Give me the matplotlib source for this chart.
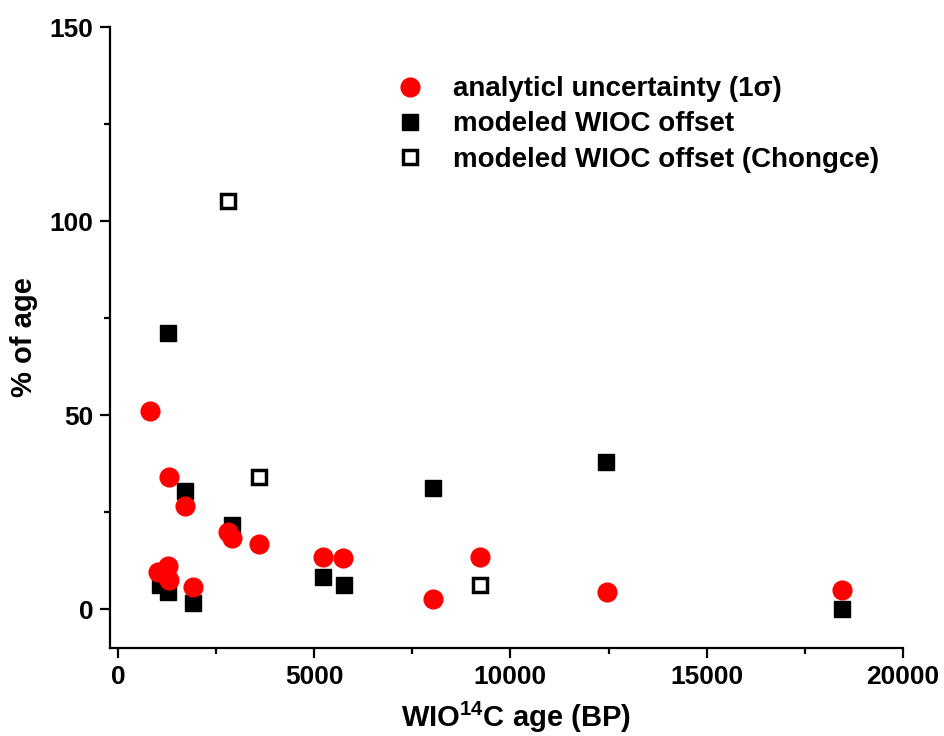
import matplotlib
matplotlib.use("Agg")
import matplotlib.pyplot as plt
from matplotlib.ticker import MultipleLocator

# analytical uncertainty (1 sigma), % of age
age_unc = [814, 1018, 1272, 1298, 1298, 1705, 1910, 2800, 2900, 3590,
           5216, 5725, 8040, 9237, 12468, 18448]
pct_unc = [51.0, 9.5, 11.1, 34.0, 7.5, 26.5, 5.7, 19.8, 18.3, 16.8,
           13.4, 13.1, 2.6, 13.4, 4.4, 4.9]

# modeled WIOC offset, % of age
age_off = [1069, 1272, 1272, 1705, 1910, 2900, 5216, 5750, 8040, 12443, 18448]
pct_off = [6.2, 71.1, 4.4, 30.4, 1.5, 21.6, 8.2, 6.2, 31.2, 37.9, 0.0]

# modeled WIOC offset (Chongce)
age_chg = [2800, 3590, 9237]
pct_chg = [105.2, 34.0, 6.2]

plt.rcParams['font.family'] = ['Liberation Sans', 'DejaVu Sans']
plt.rcParams['font.weight'] = 'bold'
plt.rcParams['mathtext.fontset'] = 'custom'
plt.rcParams['mathtext.rm'] = 'Liberation Sans:bold'
plt.rcParams['mathtext.bf'] = 'Liberation Sans:bold'

fig = plt.figure(figsize=(9.44, 7.36), dpi=100)
ax = fig.add_axes([0.1165, 0.1196, 0.8401, 0.8437])

h_off, = ax.plot(age_off, pct_off, 's', color='black', markersize=11.5,
                 linestyle='none', zorder=2)
h_chg, = ax.plot(age_chg, pct_chg, 's', markerfacecolor='white',
                 markeredgecolor='black', markeredgewidth=2.5, markersize=10,
                 linestyle='none', zorder=2)
h_unc, = ax.plot(age_unc, pct_unc, 'o', color='red', markersize=13.5,
                 linestyle='none', zorder=3)

ax.set_xlim(-200, 20000)
ax.set_ylim(-10, 150)
ax.xaxis.set_major_locator(MultipleLocator(5000))
ax.xaxis.set_minor_locator(MultipleLocator(2500))
ax.yaxis.set_major_locator(MultipleLocator(50))
ax.yaxis.set_minor_locator(MultipleLocator(25))

for s in ['top', 'right']:
    ax.spines[s].set_visible(False)
for s in ['left', 'bottom']:
    ax.spines[s].set_linewidth(1.6)

ax.tick_params(which='major', direction='out', length=7, width=1.6,
               labelsize=19, pad=5)
ax.tick_params(which='minor', direction='out', length=4, width=1.6)

ax.set_xlabel(r'WIO$^{14}$C age (BP)', fontsize=21, fontweight='bold', labelpad=8)
ax.xaxis.label.set_x(0.512)
ax.set_ylabel('% of age', fontsize=21, fontweight='bold', labelpad=8)

ax.legend([h_unc, h_off, h_chg],
          ['analyticl uncertainty (1σ)', 'modeled WIOC offset',
           'modeled WIOC offset (Chongce)'],
          loc='upper left', bbox_to_anchor=(0.329, 0.961), frameon=False,
          handlelength=1.0, handletextpad=1.05, labelspacing=0.33,
          prop={'weight': 'bold', 'size': 20})

fig.savefig('out.png', dpi=100)
